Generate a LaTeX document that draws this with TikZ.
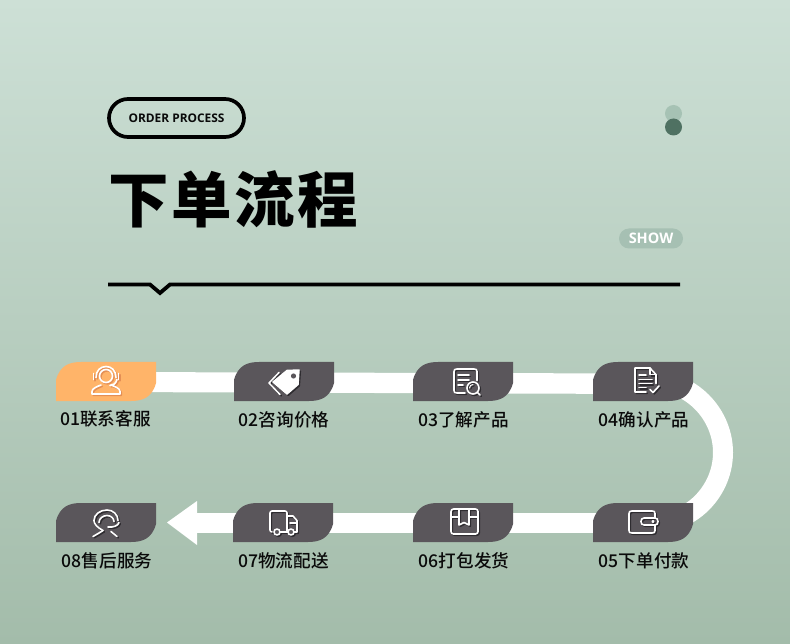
\documentclass[tikz,border=0pt]{standalone}
\usepackage{fontspec}
\setmainfont{Noto Sans CJK SC Medium}
\newfontfamily\titlefont{Noto Sans CJK SC Black}
\newfontfamily\latinbold{Open Sans}[BoldFont={Open Sans Bold}]
\definecolor{bgtop}{HTML}{CDE0D6}
\definecolor{bgbot}{HTML}{A3BCAA}
\definecolor{cardgrey}{HTML}{5A565B}
\definecolor{cardorange}{HTML}{FFB469}
\definecolor{ink}{HTML}{0A0A0A}
\definecolor{shadowgrey}{HTML}{2E2C30}
\definecolor{shadoworange}{HTML}{E48F55}
\definecolor{dotlight}{HTML}{A6C2B4}
\definecolor{dotdark}{HTML}{4F7162}
\definecolor{pill}{HTML}{A6C0B3}
\usetikzlibrary{calc}
\tikzset{
  x=1pt,y=-1pt,
  anchorbox/.style={minimum width=100pt,minimum height=39pt,inner sep=0pt,outer sep=0pt},
  band/.style={draw=white,line width=20pt,line cap=butt},
  steplabel/.style={font=\fontsize{17.6}{17.6}\selectfont,text=ink,inner sep=0pt,anchor=center},
  il/.style={draw=iconcol,line width=1.6pt,line join=round,line cap=round,fill=none},
}
\newcommand{\cardshape}[2]{%
  \fill[#2] (#1.south west) -- ($(#1.west)+(0,-1.5)$)
   .. controls ($(#1.north west)+(4,3)$) and ($(#1.north west)+(14,0)$) .. ($(#1.north west)+(25,0)$)
   -- (#1.north east) -- ($(#1.east)+(0,1.5)$)
   .. controls ($(#1.south east)+(-4,-3)$) and ($(#1.south east)+(-14,0)$) .. ($(#1.south east)+(-25,0)$)
   -- cycle;}
% #1 node, #2 shadow colour, #3 icon body
\newcommand{\placeicon}[3]{%
  \begin{scope}[shift={(#1.center)}]
   \begin{scope}[shift={(1.3,1.3)}]\colorlet{iconcol}{#2}#3\end{scope}
   \begin{scope}\colorlet{iconcol}{white}#3\end{scope}
  \end{scope}}
\newcommand{\iconHeadset}{%
  \draw[il] (0,-5.5) circle (6.5);
  \draw[il] (-10,-4) .. controls (-10,-11) and (-5.5,-15) .. (0,-15) .. controls (5.5,-15) and (10,-11) .. (10,-4);
  \draw[il] (-12.5,-8) -- (-12.5,-2);
  \draw[il] (12.5,-8) -- (12.5,-2);
  \draw[il] (11,-2) .. controls (10,2) and (7,4) .. (4,4);
  \draw[il] (-5,3.5) .. controls (-9,5) and (-14,7) .. (-14,10) -- (-14,12.5) -- (14,12.5) -- (14,10) .. controls (14,7) and (9,5) .. (5,3.5);
}
\newcommand{\iconTag}{%
  \draw[il,line width=1.5pt] (-5,-9) -- (-15,1.5) -- (-4,13);
  \fill[iconcol,draw=iconcol,line width=1.5pt,line join=round] (3,-11) -- (15,-11.5) -- (14,3) -- (3,12.5) -- (-11,0.5) -- cycle;
  \fill[cardgrey] (9.5,-5.5) circle (2.6);
}
\newcommand{\iconDocSearch}{%
  \draw[il] (14,-1) -- (14,-10) .. controls (14,-12) and (13,-12.5) .. (11,-12.5) -- (-6,-12.5) .. controls (-8,-12.5) and (-9,-12) .. (-9,-10) -- (-9,9) .. controls (-9,11) and (-8,11.5) .. (-6,11.5) -- (2,11.5);
  \draw[il] (-5,-6.5) -- (6,-6.5);
  \draw[il] (-5,-1.5) -- (6,-1.5);
  \draw[il] (-5,3.5) -- (0,3.5);
  \draw[il] (10,6.5) circle (6);
  \draw[il] (14.5,11) -- (17,13.5);
  \draw[il,line width=1pt] (6.5,6.5) .. controls (6.5,4.5) and (8,3) .. (10,3);
}
\newcommand{\iconDocCheck}{%
  \draw[il] (13,2) -- (13,-7) -- (7,-13.5) -- (-8,-13.5) -- (-8,10.5) -- (3,10.5);
  \draw[il] (7,-13.5) -- (7,-7) -- (13,-7);
  \draw[il] (-4,-6.5) -- (3,-6.5);
  \draw[il] (-4,-2) -- (9,-2);
  \draw[il] (-4,2) -- (9,2);
  \draw[il] (-4,6) -- (3,6);
  \draw[il] (7,8) -- (10,11) -- (16,4.5);
}
\newcommand{\iconWallet}{%
  \draw[il] (12,-4.5) -- (12,-9) .. controls (12,-11) and (11,-11.5) .. (9,-11.5) -- (-11,-11.5) .. controls (-13,-11.5) and (-14,-11) .. (-14,-9) -- (-14,8) .. controls (-14,10) and (-13,10.5) .. (-11,10.5) -- (9,10.5) .. controls (11,10.5) and (12,10) .. (12,8) -- (12,2.5);
  \draw[il] (1,-4.5) -- (12,-4.5) .. controls (14,-4.5) and (15,-3) .. (15,-1) .. controls (15,1) and (14,2.5) .. (12,2.5) -- (1,2.5) .. controls (-1,2.5) and (-2,1) .. (-2,-1) .. controls (-2,-3) and (-1,-4.5) .. (1,-4.5) -- cycle;
  \draw[il,line width=1.1pt] (10,-1) circle (1);
}
\newcommand{\iconBox}{%
  \draw[il,rounded corners=2.5pt] (-12,-13.5) rectangle (15,11.5);
  \draw[il] (-4,-13.5) -- (-4,2.5) -- (1,0) -- (6,2.5) -- (6,-13.5);
  \draw[il] (-12,-5.5) -- (-4,-5.5);
  \draw[il] (6,-5.5) -- (15,-5.5);
}
\newcommand{\iconTruck}{%
  \draw[il,rounded corners=2pt] (-11,9.5) -- (-13,9.5) -- (-13,-11.5) -- (4,-11.5) -- (4,9.5);
  \draw[il] (4,-6.5) -- (10,-6.5) -- (14,-2) -- (14,9.5) -- (11,9.5);
  \draw[il] (7,0.5) -- (14,0.5);
  \draw[il] (-3,9.5) -- (5,9.5);
  \draw[il,fill=cardgrey] (-6,9.5) circle (3);
  \draw[il,fill=cardgrey] (8,9.5) circle (3);
}
\newcommand{\iconAgent}{%
  \draw[il] (-3,8) .. controls (-9,5) and (-12,1) .. (-12,-2) .. controls (-12,-8) and (-6,-12.5) .. (1,-12.5) .. controls (7,-12.5) and (12,-8) .. (12,-2);
  \draw[il] (-7,0) .. controls (-7,-4) and (-3,-7) .. (1,-7) .. controls (5,-7) and (8,-4) .. (8,-1);
  \draw[il] (13,0) .. controls (12,3.5) and (7,5) .. (2,4.5);
  \draw[il] (-13,14) -- (-7,10.5) -- (-3,8);
  \draw[il] (11,14) -- (5,9);
}
\begin{document}
\begin{tikzpicture}
\useasboundingbox (0,0) rectangle (790,644);
\shade[top color=bgtop,bottom color=bgbot] (0,0) rectangle (790,644);
% header
\node[draw=black,line width=3.7pt,rounded corners=19pt,minimum width=135pt,minimum height=38pt,inner sep=0pt,
  font=\latinbold\bfseries\fontsize{11.9}{11.9}\selectfont,text=ink] (tag) at (176.5,118) {ORDER PROCESS};
\node[anchor=center,inner sep=0pt,font=\titlefont\fontsize{60.5}{60.5}\selectfont,text=black] (title) at (233.5,199) {下\hspace{2.5pt}单\hspace{2.5pt}流\hspace{2.5pt}程};
\fill[dotlight] (673.5,113.5) circle (8.5);
\fill[dotdark] (673.5,127) circle (8.5);
\node[fill=pill,rounded corners=10pt,minimum width=64pt,minimum height=20pt,inner sep=0pt,
  font=\latinbold\bfseries\fontsize{14.5}{14.5}\selectfont,text=white] (show) at (651,238.5) {SHOW};
\coordinate (ruleL) at (108,284.5);
\coordinate (ruleR) at (680,284.5);
\draw[black,line width=3.8pt,line join=miter] (ruleL) -- (150,284.5) -- (160,293) -- (170,284.5) -- (ruleR);
% anchors
\node[anchorbox] (c1) at (106,381.5) {};
\node[anchorbox] (c2) at (284,381.5) {};
\node[anchorbox] (c3) at (463,381.5) {};
\node[anchorbox] (c4) at (643,381.5) {};
\node[anchorbox] (c5) at (643,522.5) {};
\node[anchorbox] (c6) at (463,522.5) {};
\node[anchorbox] (c7) at (283,522.5) {};
\node[anchorbox] (c8) at (106,522.5) {};
% band
\fill[white] ($(c1.center)+(0,-9.5)$) -- ($(c4.center)+(0,-8)$) -- ($(c4.center)+(0,12.5)$) -- ($(c1.center)+(0,10.5)$) -- cycle;
\draw[band] (c4.center) .. controls (686,376) and (723,411) .. (723,452.5) .. controls (723,494) and (686,529) .. (c5.center);
\draw[band] (c5.center) -- (c6.center);
\draw[band] (c6.center) -- (c7.center);
\coordinate (tip) at (167,522.5);
\draw[band] (c7.center) -- (195,522.5);
\fill[white] (tip) -- (197,501) -- (197,545) -- cycle;
% cards
\cardshape{c1}{cardorange}
\foreach \n in {c2,c3,c4,c5,c6,c7,c8}{\cardshape{\n}{cardgrey}}
% icons
\placeicon{c1}{shadoworange}{\iconHeadset}
\placeicon{c2}{shadowgrey}{\iconTag}
\placeicon{c3}{shadowgrey}{\iconDocSearch}
\placeicon{c4}{shadowgrey}{\iconDocCheck}
\placeicon{c5}{shadowgrey}{\iconWallet}
\placeicon{c6}{shadowgrey}{\iconBox}
\placeicon{c7}{shadowgrey}{\iconTruck}
\placeicon{c8}{shadowgrey}{\iconAgent}
% labels
\node[steplabel] (l1) at (105.5,419) {01联系客服};
\node[steplabel] (l2) at (284,420) {02咨询价格};
\node[steplabel] (l3) at (463.5,420) {03了解产品};
\node[steplabel] (l4) at (644,420) {04确认产品};
\node[steplabel] (l5) at (644,561) {05下单付款};
\node[steplabel] (l6) at (464,561) {06打包发货};
\node[steplabel] (l7) at (283.5,561) {07物流配送};
\node[steplabel] (l8) at (107,561) {08售后服务};
\end{tikzpicture}
\end{document}
